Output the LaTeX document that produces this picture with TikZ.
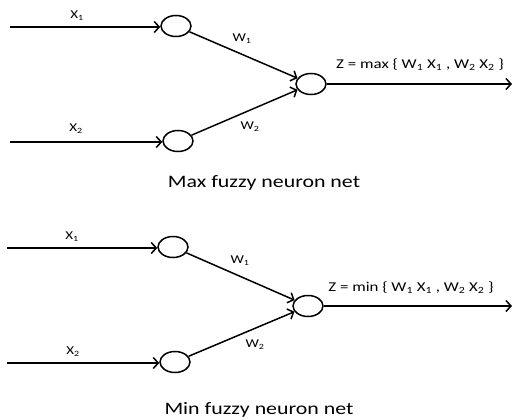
\documentclass[tikz,border=0pt]{standalone}
\usepackage{fontspec}
\setmainfont{Carlito}[FakeStretch=1.25]
\usetikzlibrary{arrows.meta,shapes.geometric}
\newcommand{\sbs}[1]{\textsubscript{#1}}
\begin{document}
\begin{tikzpicture}[x=1pt,y=-1pt,
  neuron/.style={draw, ellipse, minimum width=30pt, minimum height=21pt, inner sep=0pt, line width=1.5pt},
  link/.style={line width=1.5pt, -{Straight Barb[length=5pt,width=11pt,line width=1.5pt]}},
  lbl/.style={font=\fontsize{12}{14}\selectfont, inner sep=0pt},
  zlbl/.style={font=\fontsize{13.5}{16}\selectfont, inner sep=0pt},
  captxt/.style={font=\fontsize{17.5}{21}\selectfont, inner sep=0pt}]
\useasboundingbox (0,0) rectangle (514,420);
% ---------- Max net ----------
\coordinate (a1) at (10,27);
\coordinate (a2) at (10,142);
\node[neuron] (an1) at (176,26) {};
\node[neuron] (an2) at (178,141) {};
\node[neuron] (ao) at (311,84) {};
\coordinate (aend) at (512,84);
\draw[link] (a1) -- (an1.west |- a1);
\draw[link] (a2) -- (an2.west |- a2);
\draw[link] (an1) -- (ao);
\draw[link] (an2) -- (ao);
\draw[link] (ao.east) -- (aend);
\node[lbl] (ax1) at (77,16) {X\sbs{1}};
\node[lbl] (ax2) at (76,129) {X\sbs{2}};
\node[lbl] (aw1) at (242,39) {W\sbs{1}};
\node[lbl] (aw2) at (250,127) {W\sbs{2}};
\node[zlbl] (az) at (420,65) {Z = max \{ W\sbs{1} X\sbs{1} , W\sbs{2} X\sbs{2} \}};
\node[captxt] (acap) at (264,183) {Max fuzzy neuron net};
% ---------- Min net ----------
\coordinate (b1) at (7,248);
\coordinate (b2) at (7,363);
\node[neuron] (bn1) at (173,247) {};
\node[neuron] (bn2) at (175,362) {};
\node[neuron] (bo) at (308,306) {};
\coordinate (bend) at (512,306);
\draw[link] (b1) -- (bn1.west |- b1);
\draw[link] (b2) -- (bn2.west |- b2);
\draw[link] (bn1) -- (bo);
\draw[link] (bn2) -- (bo);
\draw[link] (bo.east) -- (bend);
\node[lbl] (bx1) at (72,237) {X\sbs{1}};
\node[lbl] (bx2) at (73,352) {X\sbs{2}};
\node[lbl] (bw1) at (240,261) {W\sbs{1}};
\node[lbl] (bw2) at (255,345) {W\sbs{2}};
\node[zlbl] (bz) at (411,288) {Z = min \{ W\sbs{1} X\sbs{1} , W\sbs{2} X\sbs{2} \}};
\node[captxt] (bcap) at (259,410) {Min fuzzy neuron net};
\end{tikzpicture}
\end{document}
